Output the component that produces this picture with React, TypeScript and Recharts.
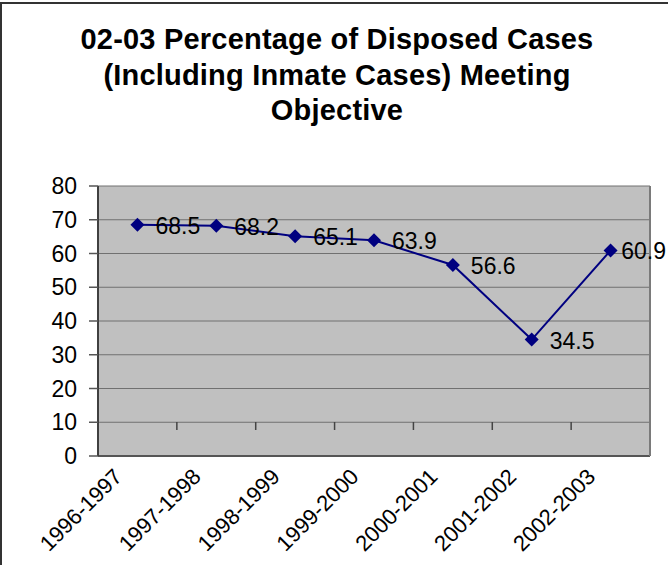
import React from "react";
import {
  CartesianGrid,
  LabelList,
  Line,
  LineChart,
  XAxis,
  YAxis,
} from "recharts";

const categories = [
  "1996-1997",
  "1997-1998",
  "1998-1999",
  "1999-2000",
  "2000-2001",
  "2001-2002",
  "2002-2003",
];
const percentMet = [68.5, 68.2, 65.1, 63.9, 56.6, 34.5, 60.9];
const yTicks = [0, 10, 20, 30, 40, 50, 60, 70, 80];
const titleLines = [
  "02-03 Percentage of Disposed Cases",
  "(Including Inmate Cases) Meeting",
  "Objective",
];

const data = categories.map((year, i) => ({ year, value: percentMet[i] }));

const W = 668;
const H = 565;
const PLOT_LEFT = 98;
const PLOT_RIGHT = 18;
const PLOT_TOP = 186;
const X_AXIS_H = 109;
const plotWidth = W - PLOT_LEFT - PLOT_RIGHT;
const halfStep = plotWidth / categories.length / 2;
const FONT = "'Liberation Sans', Arial, sans-serif";

const Diamond = (props: any) => {
  const { cx, cy } = props;
  if (cx == null || cy == null) return null;
  const r = 7;
  return (
    <polygon
      points={`${cx},${cy - r} ${cx + r},${cy} ${cx},${cy + r} ${cx - r},${cy}`}
      fill="#000080"
    />
  );
};

const XTick = (props: any) => {
  const { x, y, payload, index } = props;
  const ax = x - 14;
  const ay = y + 22;
  return (
    <g>
      {index > 0 && (
        <line
          x1={x - halfStep}
          x2={x - halfStep}
          y1={y - 34}
          y2={y - 26}
          stroke="#444"
          strokeWidth={1.5}
        />
      )}
      <text
        x={ax}
        y={ay}
        transform={`rotate(-45, ${ax}, ${ay})`}
        textAnchor="end"
        fontSize={22}
        fontFamily={FONT}
        fill="#000"
      >
        {payload.value}
      </text>
    </g>
  );
};

const PointLabel = (props: any) => {
  const { x, y, value } = props;
  const text = String(value);
  const estWidth = text.length * 11.7;
  let lx = x + 18;
  let anchor: "start" | "end" = "start";
  if (lx + estWidth > W - 2) {
    lx = W - 2;
    anchor = "end";
  }
  return (
    <text
      x={lx}
      y={y + 1}
      textAnchor={anchor}
      dominantBaseline="central"
      fontSize={23}
      fontFamily={FONT}
      fill="#000"
    >
      {text}
    </text>
  );
};

export default function App() {
  return (
    <div
      style={{
        position: "absolute",
        left: 0,
        top: 0,
        width: W,
        height: H,
        overflow: "hidden",
        background: "#fff",
      }}
    >
      <div
        style={{
          position: "absolute",
          left: 0,
          top: 2,
          width: W + 20,
          height: H + 20,
          borderTop: "2px solid #333",
          borderLeft: "2px solid #333",
          boxSizing: "border-box",
        }}
      />
      <div
        style={{
          position: "absolute",
          top: 22,
          left: 0,
          width: 674,
          textAlign: "center",
          fontFamily: FONT,
          fontWeight: "bold",
          fontSize: 29,
          lineHeight: "35.5px",
          letterSpacing: "0.2px",
          color: "#000",
        }}
      >
        {titleLines.map((l) => (
          <div key={l}>{l}</div>
        ))}
      </div>
      <div style={{ position: "absolute", left: 0, top: 0 }}>
        <LineChart
          width={W}
          height={H}
          data={data}
          margin={{ top: PLOT_TOP, right: PLOT_RIGHT - 1, left: 0, bottom: 0 }}
        >
          <CartesianGrid
            vertical={false}
            fill="#C0C0C0"
            stroke="#707070"
            strokeWidth={1}
          />
          <XAxis
            dataKey="year"
            height={X_AXIS_H}
            padding={{ left: halfStep, right: halfStep }}
            tickLine={false}
            tickSize={0}
            tickMargin={0}
            interval={0}
            axisLine={{ stroke: "#555", strokeWidth: 2 }}
            tick={<XTick />}
          />
          <YAxis
            width={PLOT_LEFT}
            domain={[0, 80]}
            ticks={yTicks}
            interval={0}
            tickSize={9}
            tickMargin={12}
            axisLine={{ stroke: "#404040", strokeWidth: 2 }}
            tickLine={{ stroke: "#555", strokeWidth: 1.5 }}
            tick={{ fontSize: 23, fontFamily: FONT, fill: "#000" }}
          />
          <YAxis
            yAxisId="r"
            orientation="right"
            width={1}
            domain={[0, 80]}
            ticks={yTicks}
            tick={false}
            tickLine={false}
            axisLine={{ stroke: "#7a7a7a", strokeWidth: 2 }}
          />
          <Line
            dataKey="value"
            stroke="#000080"
            strokeWidth={2}
            dot={<Diamond />}
            activeDot={false}
            isAnimationActive={false}
          >
            <LabelList dataKey="value" content={<PointLabel />} />
          </Line>
        </LineChart>
      </div>
    </div>
  );
}
